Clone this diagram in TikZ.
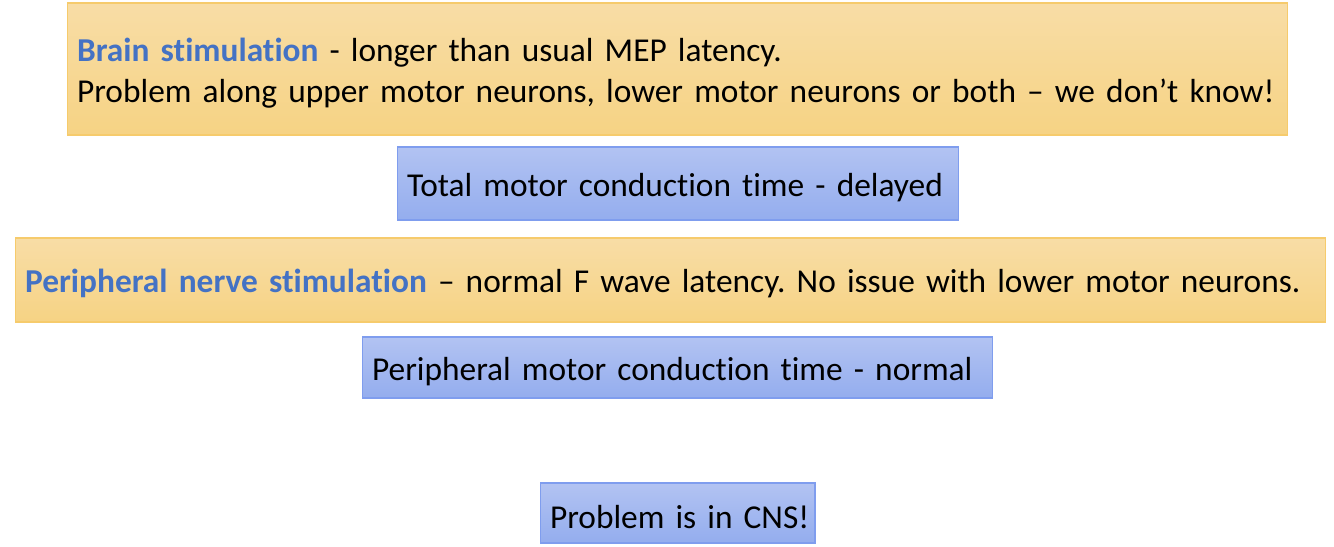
\documentclass[tikz,border=0pt]{standalone}
\usepackage{fontspec}
\setmainfont[Ligatures=CommonOff]{Carlito}
\usepackage{xcolor}
\usetikzlibrary{positioning}
\definecolor{orangetop}{HTML}{F8DDA6}
\definecolor{orangebot}{HTML}{F6D384}
\definecolor{orangeline}{HTML}{F6CB6C}
\definecolor{bluetop}{HTML}{B2C3F2}
\definecolor{bluebot}{HTML}{94ADEE}
\definecolor{blueline}{HTML}{7F9DEE}
\definecolor{keyblue}{HTML}{4472C4}
\newcommand{\keyword}[1]{\textcolor{keyblue}{\textbf{#1}}}
\newcommand{\lowline}[1]{\raisebox{-2.2pt}[\height][\depth]{#1}}
\frenchspacing

\begin{document}
\begin{tikzpicture}[x=0.02cm,y=-0.02cm,line width=0.6pt,
    every node/.style={font=\fontsize{19}{23.3}\selectfont},
    orangebox/.style={draw=orangeline,top color=orangetop,bottom color=orangebot,
      inner xsep=0.2cm,align=left},
    bluebox/.style={draw=blueline,top color=bluetop,bottom color=bluebot,
      inner xsep=0.2cm,align=left}]
  \useasboundingbox (0,0) rectangle (1334,547);
  % findings and conclusions, top to bottom
  \node[orangebox,minimum width=24.42cm,minimum height=2.64cm,text width=24.02cm] (brain) at (677.5,69)
    {\lowline{\keyword{Brain stimulation} - longer than usual MEP latency.}\\
     \lowline{Problem along upper motor neurons, lower motor neurons or both – we don’t know!}};
  \node[bluebox,minimum width=11.24cm,minimum height=1.46cm,text width=10.84cm] (total) at (678,183.5)
    {\lowline{Total motor conduction time - delayed}};
  \node[orangebox,minimum width=26.22cm,minimum height=1.68cm,text width=25.82cm] (periph) at (670.5,280)
    {\lowline{\keyword{Peripheral nerve stimulation} – normal F wave latency. No issue with lower motor neurons.}};
  \node[bluebox,minimum width=12.62cm,minimum height=1.22cm,text width=12.22cm] (pmct) at (677.5,367.5)
    {\lowline{Peripheral motor conduction time - normal}};
  \node[bluebox,minimum width=5.5cm,minimum height=1.2cm,text width=5.1cm] (cns) at (677.5,513)
    {\lowline{Problem is in CNS!}};
\end{tikzpicture}
\end{document}
